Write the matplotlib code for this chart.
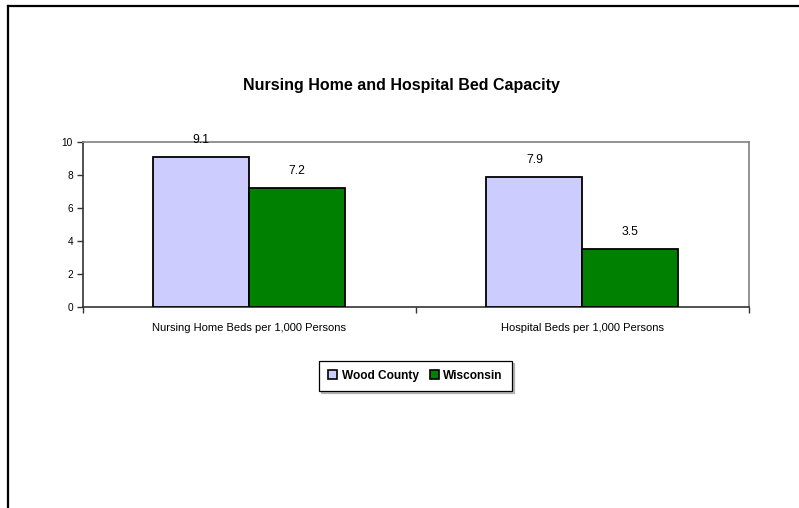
import matplotlib
matplotlib.use("Agg")
import matplotlib.pyplot as plt
from matplotlib.lines import Line2D
from matplotlib.patches import Patch
import numpy as np

# --- chart data ---
categories = ["Nursing Home Beds per 1,000 Persons", "Hospital Beds per 1,000 Persons"]
series_names = ["Wood County", "Wisconsin"]
wood_county = [9.1, 7.9]
wisconsin = [7.2, 3.5]
y_ticks = [0, 2, 4, 6, 8, 10]

colors = {"Wood County": "#CCCCFF", "Wisconsin": "#008000"}

plt.rcParams['font.family'] = ['Liberation Sans', 'DejaVu Sans']

fig = plt.figure(figsize=(7.99, 5.08), dpi=100)
ax = fig.add_axes([0.1035, 0.3963, 0.8339, 0.3242])

x = np.arange(len(categories))
w = 0.288
b1 = ax.bar(x - w / 2, wood_county, w, color=colors["Wood County"],
            edgecolor="black", linewidth=1.3, zorder=3)
b2 = ax.bar(x + w / 2, wisconsin, w, color=colors["Wisconsin"],
            edgecolor="black", linewidth=1.3, zorder=3)

# value labels above bars
for bars, vals in [(b1, wood_county), (b2, wisconsin)]:
    for rect, v in zip(bars, vals):
        ax.annotate(f"{v:.1f}", (rect.get_x() + rect.get_width() / 2, v),
                    xytext=(0, 12), textcoords="offset points",
                    ha="center", va="center", fontsize=8.8)

ax.set_xlim(-0.5, len(categories) - 0.5)
ax.set_ylim(0, 10)
ax.set_yticks(y_ticks)
ax.set_xticks(x)
ax.set_xticklabels(categories, fontsize=8)
ax.set_xticks(np.arange(len(categories) + 1) - 0.5, minor=True)
ax.tick_params(axis="x", which="major", length=0, pad=11.5)
ax.tick_params(axis="x", which="minor", length=4, width=1, color="#333333")
ax.tick_params(axis="y", length=4, width=1, color="#333333", labelsize=7.3, pad=3)

for side in ["top", "right"]:
    ax.spines[side].set_color("#808080")
    ax.spines[side].set_linewidth(1.2)
for side in ["left", "bottom"]:
    ax.spines[side].set_color("#333333")
    ax.spines[side].set_linewidth(1.2)

fig.text(0.503, 0.831, "Nursing Home and Hospital Bed Capacity",
         ha="center", va="center", fontsize=11.5, fontweight="bold")

handles = [Patch(facecolor=colors[n], edgecolor="black", linewidth=1.2) for n in series_names]
leg = fig.legend(handles, series_names, loc="center", bbox_to_anchor=(0.52, 0.26),
                 ncol=2, fancybox=False, edgecolor="black",
                 shadow={"ox": 1.5, "oy": -1.5, "color": "#808080"},
                 handlelength=0.75, handleheight=0.75, handletextpad=0.4,
                 columnspacing=0.9, borderpad=0.75, prop={"size": 8.6, "weight": "bold"})
leg.get_frame().set_linewidth(0.9)

# outer chart frame (left and top edges visible)
fig.add_artist(Line2D([0.0106, 0.0106], [0, 0.988], transform=fig.transFigure,
                      color="black", linewidth=1.6))
fig.add_artist(Line2D([0.0106, 1.0], [0.988, 0.988], transform=fig.transFigure,
                      color="black", linewidth=1.6))

fig.savefig("out.png", dpi=100)
